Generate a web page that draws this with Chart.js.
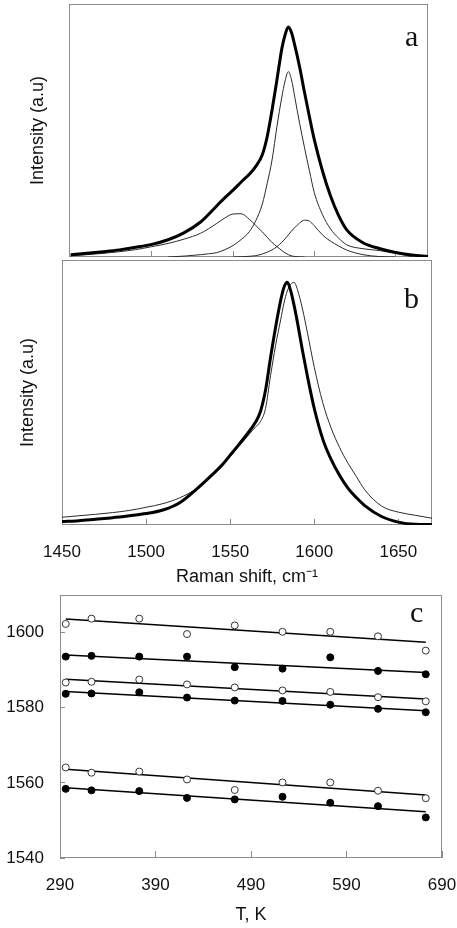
<!DOCTYPE html>
<html>
<head>
<meta charset="utf-8">
<script src="https://cdn.jsdelivr.net/npm/chart.js@4.4.0/dist/chart.umd.min.js"></script>
<style>
    body { margin: 0; background: #fff; }
    #page { position: relative; width: 457px; height: 928px; overflow: hidden; background: #fff; }
    #page canvas { position: absolute; left: 0; }
    .panel-tag { position: absolute; font-family: 'Liberation Serif', 'Times New Roman', serif; font-size: 30px; line-height: 30px; color: #111; }
</style>
</head>
<body>
<div id="page">
    <canvas id="chartA" width="457" height="258" style="top:0px"></canvas>
    <canvas id="chartB" width="457" height="330" style="top:258px"></canvas>
    <canvas id="chartC" width="457" height="340" style="top:588px"></canvas>
    <div class="panel-tag" style="left:405px; top:21px">a</div>
    <div class="panel-tag" style="left:404px; top:283px">b</div>
    <div class="panel-tag" style="left:410px; top:597px">c</div>
</div>
<script>
// Panel a: fitted spectrum (intensity, arbitrary units; envelope peak = 100)
const shiftA = [1450, 1460, 1470, 1480, 1490, 1500, 1510, 1520, 1530, 1535, 1540, 1545, 1550, 1555, 1560, 1564, 1568, 1571, 1574, 1577, 1580, 1582, 1584, 1586, 1588, 1591, 1594, 1597, 1600, 1605, 1610, 1615, 1620, 1630, 1640, 1650, 1660, 1670];
const envelopeA = [1.0, 1.6, 2.3, 3.1, 4.2, 5.5, 7.5, 10.6, 15.2, 18.6, 22.3, 25.8, 29.1, 32.6, 36.0, 39.4, 44.5, 52.3, 63.9, 77, 90.5, 96.5, 100, 97.5, 92, 82.5, 71.5, 61, 51, 37.5, 26.5, 18, 11.8, 6.2, 3.7, 2.0, 0.9, 0.2];
const bandMainA = [null, null, null, null, null, null, 0, 0.4, 1.0, 1.4, 1.9, 3.2, 5.0, 7.6, 11.0, 15.8, 23.0, 32.0, 42.2, 56.7, 69.5, 76.5, 80.6, 77, 69.5, 58.0, 47.5, 37.5, 28, 18.5, 12.2, 8.2, 5.3, 3.6, 2.8, 1.5, 0.2, null];
const bandLowA = [0.5, 1.0, 1.6, 2.3, 3.2, 4.5, 5.9, 7.8, 10.3, 12.3, 14.6, 17.0, 18.7, 18.8, 16.4, 13.7, 10.9, 8.6, 6.3, 4.5, 2.8, 1.8, 1.0, 0.5, 0.2, 0.05, 0, null, null, null, null, null, null, null, null, null, null, null];
const bandHighA = [null, null, null, null, null, null, null, null, null, null, null, null, 0, 0.1, 0.3, 0.6, 1.3, 2.1, 3.1, 4.5, 6.4, 7.9, 9.6, 11.3, 12.8, 14.8, 16.0, 15.6, 13.6, 9.6, 6.9, 4.8, 3.0, 1.0, 0.2, 0, null, null];
const ticksA = [1500, 1550, 1600, 1650];

// Panel b: two measured spectra (peak = 100)
const shiftB = [1450, 1460, 1470, 1480, 1490, 1500, 1510, 1520, 1530, 1540, 1545, 1550, 1555, 1560, 1565, 1568, 1571, 1574, 1577, 1580, 1582, 1584, 1586, 1588, 1590, 1593, 1596, 1600, 1605, 1610, 1615, 1620, 1625, 1630, 1640, 1650, 1660, 1670];
const spectrumThickB = [1.4, 1.8, 2.4, 3.0, 3.8, 4.7, 6.2, 9.2, 14.8, 21.2, 24.6, 28.8, 33.0, 37.4, 42.3, 46.8, 55.5, 69, 81.5, 92.5, 98, 100, 96.5, 90.5, 83.5, 71.8, 61, 48, 35.5, 27, 20.5, 15.2, 11.3, 8.0, 3.5, 1.2, 0.3, 0.2];
const spectrumThinB = [3.2, 3.8, 4.4, 5.1, 6.0, 7.3, 8.8, 11.2, 15.0, 20.8, 24.0, 28.2, 32.3, 36.3, 40.4, 42.6, 48, 61.5, 74, 84.5, 91.5, 96.5, 99.2, 100, 97, 89, 79, 65, 50.5, 40, 32, 25.5, 20, 14.5, 7.8, 5.3, 4.0, 2.8];
const ticksB = [1450, 1500, 1550, 1600, 1650];

// Panel c: band positions vs temperature
const tempK = [296, 323, 373, 423, 473, 523, 573, 623, 673];
const openTop = [1602.3, 1603.7, 1603.7, 1599.6, 1601.9, 1600.2, 1600.2, 1599.0, 1595.2];
const filledTop = [1593.6, 1593.8, 1593.6, 1593.6, 1590.8, 1590.4, 1593.4, 1589.8, 1588.9];
const openMid = [1586.7, 1586.9, 1587.5, 1586.2, 1585.4, 1584.6, 1584.2, 1582.8, 1581.7];
const filledMid = [1583.7, 1583.8, 1584.1, 1582.7, 1581.9, 1581.8, 1580.8, 1579.7, 1578.8];
const openLow = [1564.1, 1562.7, 1563.0, 1560.9, 1558.1, 1560.1, 1560.1, 1557.9, 1555.9];
const filledLow = [1558.4, 1558.0, 1557.8, 1556.0, 1555.6, 1556.3, 1554.7, 1553.8, 1550.8];
// straight fits, start and end values
const fitT = [296, 673];
const fitOpenTop = [1603.6, 1597.4];
const fitFilledTop = [1594.0, 1589.4];
const fitOpenMid = [1587.6, 1582.3];
const fitFilledMid = [1584.3, 1579.2];
const fitOpenLow = [1563.6, 1556.8];
const fitFilledLow = [1558.7, 1552.3];
const tempTicks = [290, 390, 490, 590, 690];
const shiftTicks = [1540, 1560, 1580, 1600];

const SANS = "'Liberation Sans', Arial, Helvetica, sans-serif";
const FRAME = '#8c8c8c';

function toPoints(xs, ys) {
    return xs.map((x, i) => ({ x: x, y: ys[i] }));
}

// fixed axis size, and no extra room for the end labels
function fixSize(size) {
    return ax => {
        if (ax.isHorizontal()) ax.height = size; else ax.width = size;
        ax.paddingTop = 0;
        ax.paddingBottom = 0;
        ax.paddingLeft = 0;
        ax.paddingRight = 0;
    };
}

function setTicks(values) {
    return ax => { ax.ticks = values.map(v => ({ value: v })); };
}

// grey box round the plot area
const framePlugin = {
    id: 'frame',
    beforeDatasetsDraw(chart) {
        const { ctx, chartArea: a } = chart;
        ctx.save();
        ctx.strokeStyle = FRAME;
        ctx.lineWidth = 1;
        ctx.strokeRect(a.left + 0.5, a.top + 0.5, a.right - a.left - 1, a.bottom - a.top - 1);
        ctx.restore();
    }
};

function spectrumLine(xs, ys, width) {
    return {
        data: toPoints(xs, ys),
        borderColor: width > 1 ? '#000' : '#2a2a2a',
        borderWidth: width,
        pointRadius: 0,
        fill: false,
        cubicInterpolationMode: 'monotone',
        spanGaps: false
    };
}

const baseOptions = {
    responsive: false,
    animation: false,
    events: [],
    plugins: { legend: { display: false }, tooltip: { enabled: false } }
};

const tickFont = { family: SANS, size: 17 };
const titleFont = { family: SANS, size: 18 };

// Panel a
new Chart(document.getElementById('chartA').getContext('2d'), {
    type: 'line',
    data: {
        datasets: [
            spectrumLine(shiftA, envelopeA, 3),
            spectrumLine(shiftA, bandMainA, 1),
            spectrumLine(shiftA, bandLowA, 1),
            spectrumLine(shiftA, bandHighA, 1)
        ]
    },
    options: {
        ...baseOptions,
        layout: { padding: { top: 4, right: 29, left: 0, bottom: 0 } },
        scales: {
            x: {
                type: 'linear', min: 1449, max: 1670,
                afterBuildTicks: setTicks(ticksA),
                afterFit: fixSize(1),
                ticks: { display: false },
                grid: { drawOnChartArea: false, tickLength: -6, color: FRAME, tickColor: FRAME },
                border: { display: false }
            },
            y: {
                min: 0, max: 110,
                afterFit: fixSize(69),
                ticks: { display: false },
                grid: { display: false },
                border: { display: false },
                title: { display: true, text: 'Intensity (a.u)', color: '#111', font: titleFont, padding: { top: 27.2, bottom: 0 } }
            }
        }
    },
    plugins: [framePlugin]
});

// Panel b
new Chart(document.getElementById('chartB').getContext('2d'), {
    type: 'line',
    data: {
        datasets: [
            spectrumLine(shiftB, spectrumThickB, 3),
            spectrumLine(shiftB, spectrumThinB, 1)
        ]
    },
    options: {
        ...baseOptions,
        layout: { padding: { top: 2, right: 25, left: 0, bottom: 0 } },
        scales: {
            x: {
                type: 'linear', min: 1450, max: 1670,
                afterBuildTicks: setTicks(ticksB),
                afterFit: fixSize(63),
                ticks: { color: '#111', font: tickFont, padding: 22.8, maxRotation: 0, autoSkip: false, callback: v => String(v) },
                grid: { drawOnChartArea: false, tickLength: -6, color: FRAME, tickColor: FRAME },
                border: { display: false },
                title: { display: true, text: 'Raman shift, cm\u207B\u00B9', color: '#111', font: titleFont, padding: { top: 0, bottom: 0.2 } }
            },
            y: {
                min: 0, max: 109.2,
                afterFit: fixSize(62),
                ticks: { display: false },
                grid: { display: false },
                border: { display: false },
                title: { display: true, text: 'Intensity (a.u)', color: '#111', font: titleFont, padding: { top: 17.2, bottom: 0 } }
            }
        }
    },
    plugins: [framePlugin]
});

// Panel c
function markerSet(ys, open) {
    return {
        data: toPoints(tempK, ys),
        showLine: false,
        pointStyle: 'circle',
        pointRadius: 3.5,
        pointBorderWidth: 1,
        pointBackgroundColor: open ? '#fff' : '#000',
        pointBorderColor: open ? '#333' : '#000',
        order: 0
    };
}

function fitLine(ys) {
    return {
        data: toPoints(fitT, ys),
        showLine: true,
        borderColor: '#000',
        borderWidth: 1.5,
        pointRadius: 0,
        order: 1
    };
}

new Chart(document.getElementById('chartC').getContext('2d'), {
    type: 'scatter',
    data: {
        datasets: [
            fitLine(fitOpenTop), fitLine(fitFilledTop), fitLine(fitOpenMid),
            fitLine(fitFilledMid), fitLine(fitOpenLow), fitLine(fitFilledLow),
            markerSet(openTop, true), markerSet(filledTop, false), markerSet(openMid, true),
            markerSet(filledMid, false), markerSet(openLow, true), markerSet(filledLow, false)
        ]
    },
    options: {
        ...baseOptions,
        layout: { padding: { top: 7, right: 15, left: 0, bottom: 0 } },
        scales: {
            x: {
                type: 'linear', min: 290, max: 690,
                afterBuildTicks: setTicks(tempTicks),
                afterFit: fixSize(70),
                ticks: { color: '#111', font: tickFont, padding: 23.8, maxRotation: 0, autoSkip: false, callback: v => String(v) },
                grid: { drawOnChartArea: false, tickLength: -7, color: FRAME, tickColor: FRAME },
                border: { display: false },
                title: { display: true, text: 'T, K', color: '#111', font: titleFont, padding: { top: 0, bottom: 2.2 } }
            },
            y: {
                type: 'linear', min: 1540, max: 1610,
                afterBuildTicks: setTicks(shiftTicks),
                afterFit: fixSize(60),
                ticks: { color: '#111', font: tickFont, padding: 21, autoSkip: false, callback: v => String(v) },
                grid: { drawOnChartArea: false, tickLength: -5, color: FRAME, tickColor: FRAME },
                border: { display: false }
            }
        }
    },
    plugins: [framePlugin]
});
</script>
</body>
</html>
